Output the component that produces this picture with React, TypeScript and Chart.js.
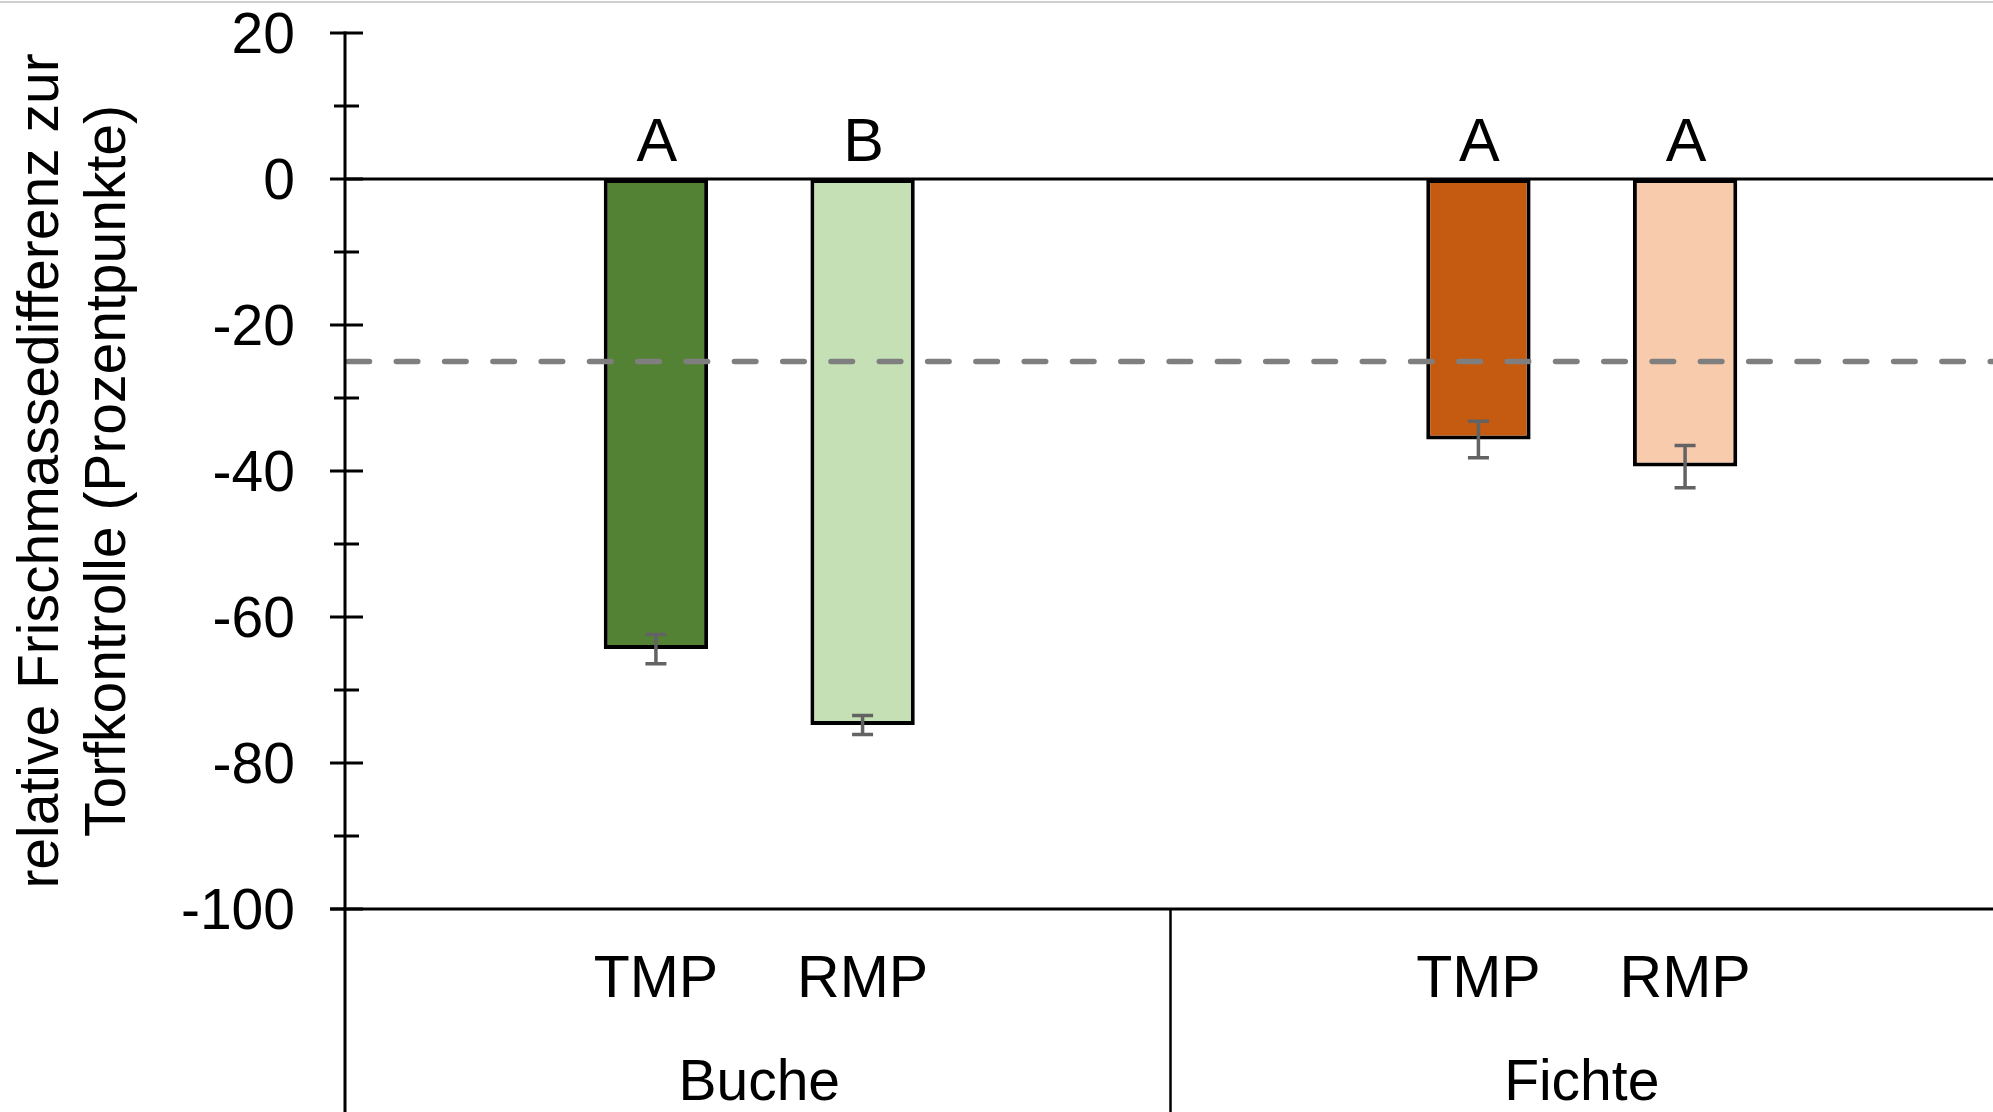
import React, { useEffect, useRef } from "react";
import { Chart, registerables } from "chart.js";

Chart.register(...registerables);

// ---------- data ----------
const groups = ["Buche", "Fichte"];
const treatments = ["TMP", "RMP"];
const tmpValues = [-64.4, -35.7];
const rmpValues = [-74.8, -39.4];
const tmpErrors = [2.0, 2.5];
const rmpErrors = [1.3, 2.9];
const tmpLetters = ["A", "A"];
const rmpLetters = ["B", "A"];
const tmpColors = ["#548235", "#c55a11"];
const rmpColors = ["#c5e0b4", "#f8cbad"];
const referenceLine = -25;
const yMin = -100;
const yMax = 20;
const yMajorStep = 20;
const yMinorStep = 10;
const yTitleLines = ["relative Frischmassedifferenz zur", "Torfkontrolle (Prozentpunkte)"];

const FONT = '"Liberation Sans", Arial, sans-serif';
const W = 1993;
const H = 1112;

const errorsByDataset = [tmpErrors, rmpErrors];
const lettersByDataset = [tmpLetters, rmpLetters];

const decorPlugin = {
  id: "decor",
  afterDatasetsDraw(chart: any) {
    const ctx = chart.ctx as CanvasRenderingContext2D;
    const ys = chart.scales.y;
    const xs = chart.scales.x;
    const area = chart.chartArea;
    const y0 = ys.getPixelForValue(0);
    const yBottom = ys.getPixelForValue(yMin);
    const axisX = area.left - 3;
    ctx.save();

    // error bars
    ctx.strokeStyle = "#636363";
    ctx.lineWidth = 3.5;
    ctx.lineCap = "butt";
    chart.data.datasets.forEach((ds: any, di: number) => {
      const meta = chart.getDatasetMeta(di);
      meta.data.forEach((bar: any, i: number) => {
        const v = ds.data[i];
        const e = errorsByDataset[di][i];
        const yt = ys.getPixelForValue(v + e);
        const yb = ys.getPixelForValue(v - e);
        const x = bar.x;
        ctx.beginPath();
        ctx.moveTo(x, yt);
        ctx.lineTo(x, yb);
        ctx.moveTo(x - 10.5, yt);
        ctx.lineTo(x + 10.5, yt);
        ctx.moveTo(x - 10.5, yb);
        ctx.lineTo(x + 10.5, yb);
        ctx.stroke();
      });
    });

    // dashed reference line
    const yr = ys.getPixelForValue(referenceLine);
    ctx.strokeStyle = "#7f7f7f";
    ctx.lineWidth = 5.5;
    ctx.lineCap = "round";
    ctx.setLineDash([21.5, 26.8]);
    ctx.lineDashOffset = 0;
    ctx.beginPath();
    ctx.moveTo(axisX + 3, yr);
    ctx.lineTo(W + 10, yr);
    ctx.stroke();
    ctx.setLineDash([]);
    ctx.lineCap = "butt";

    // zero line
    ctx.strokeStyle = "#000";
    ctx.lineWidth = 3;
    ctx.beginPath();
    ctx.moveTo(axisX, y0);
    ctx.lineTo(W, y0);
    ctx.stroke();

    // bottom axis line
    ctx.beginPath();
    ctx.moveTo(axisX - 15, yBottom);
    ctx.lineTo(W, yBottom);
    ctx.stroke();

    // vertical axis (continues as category divider)
    ctx.beginPath();
    ctx.moveTo(axisX, ys.getPixelForValue(yMax) - 1.5);
    ctx.lineTo(axisX, H);
    ctx.stroke();

    // category divider between groups
    const xb = (xs.getPixelForValue(0) + xs.getPixelForValue(1)) / 2;
    ctx.lineWidth = 2.5;
    ctx.beginPath();
    ctx.moveTo(xb, yBottom);
    ctx.lineTo(xb, H);
    ctx.stroke();

    // ticks
    ctx.lineWidth = 3;
    for (let v = yMin; v <= yMax; v += yMinorStep) {
      const y = ys.getPixelForValue(v);
      const major = (v - yMin) % yMajorStep === 0;
      ctx.beginPath();
      if (major) {
        ctx.moveTo(axisX - 15, y);
        ctx.lineTo(axisX + 18, y);
      } else {
        ctx.moveTo(axisX - 11, y);
        ctx.lineTo(axisX + 14, y);
      }
      ctx.stroke();
    }

    // tick labels
    ctx.fillStyle = "#000";
    ctx.font = `57px ${FONT}`;
    ctx.textAlign = "right";
    ctx.textBaseline = "alphabetic";
    for (let v = yMin; v <= yMax; v += yMajorStep) {
      const y = ys.getPixelForValue(v);
      ctx.fillText(String(v), axisX - 50, y + 20);
    }

    // letters above bars
    ctx.font = `61px ${FONT}`;
    ctx.textAlign = "center";
    chart.data.datasets.forEach((ds: any, di: number) => {
      const meta = chart.getDatasetMeta(di);
      meta.data.forEach((bar: any, i: number) => {
        ctx.fillText(lettersByDataset[di][i], bar.x + 1, y0 - 18);
      });
    });

    // treatment labels
    ctx.font = `59px ${FONT}`;
    chart.data.datasets.forEach((ds: any, di: number) => {
      const meta = chart.getDatasetMeta(di);
      meta.data.forEach((bar: any) => {
        ctx.fillText(treatments[di], bar.x, yBottom + 88);
      });
    });

    // group labels
    ctx.font = `57px ${FONT}`;
    groups.forEach((g, i) => {
      ctx.fillText(g, xs.getPixelForValue(i), yBottom + 191);
    });

    // y title
    ctx.font = `57px ${FONT}`;
    const cy = (area.top + area.bottom) / 2;
    ctx.save();
    ctx.translate(58, cy);
    ctx.rotate(-Math.PI / 2);
    ctx.textAlign = "center";
    ctx.fillText(yTitleLines[0], 0, 0);
    ctx.restore();
    ctx.save();
    ctx.translate(125, cy);
    ctx.rotate(-Math.PI / 2);
    ctx.textAlign = "center";
    ctx.fillText(yTitleLines[1], 0, 0);
    ctx.restore();

    // top border line of picture
    ctx.strokeStyle = "#cfcfcf";
    ctx.lineWidth = 2;
    ctx.beginPath();
    ctx.moveTo(0, 2);
    ctx.lineTo(W, 2);
    ctx.stroke();

    ctx.restore();
  },
};

export default function App() {
  const ref = useRef<HTMLCanvasElement | null>(null);
  useEffect(() => {
    if (!ref.current) return;
    const chart = new Chart(ref.current, {
      type: "bar",
      data: {
        labels: groups,
        datasets: [
          {
            label: treatments[0],
            data: tmpValues,
            backgroundColor: tmpColors,
            borderColor: "#000",
            borderWidth: 4,
            borderSkipped: false,
            barPercentage: 0.505,
            categoryPercentage: 0.5025,
          },
          {
            label: treatments[1],
            data: rmpValues,
            backgroundColor: rmpColors,
            borderColor: "#000",
            borderWidth: 4,
            borderSkipped: false,
            barPercentage: 0.505,
            categoryPercentage: 0.5025,
          },
        ],
      },
      options: {
        responsive: false,
        animation: false,
        devicePixelRatio: 1,
        layout: { padding: { left: 348, top: 33, right: -2, bottom: 203 } },
        plugins: { legend: { display: false }, tooltip: { enabled: false } },
        scales: {
          x: { type: "category", display: false, offset: true },
          y: { type: "linear", display: false, min: yMin, max: yMax },
        },
      },
      plugins: [decorPlugin],
    });
    return () => chart.destroy();
  }, []);
  return (
    <div style={{ position: "fixed", left: 0, top: 0, width: W, height: H, background: "#fff" }}>
      <canvas ref={ref} width={W} height={H} style={{ display: "block" }} />
    </div>
  );
}
